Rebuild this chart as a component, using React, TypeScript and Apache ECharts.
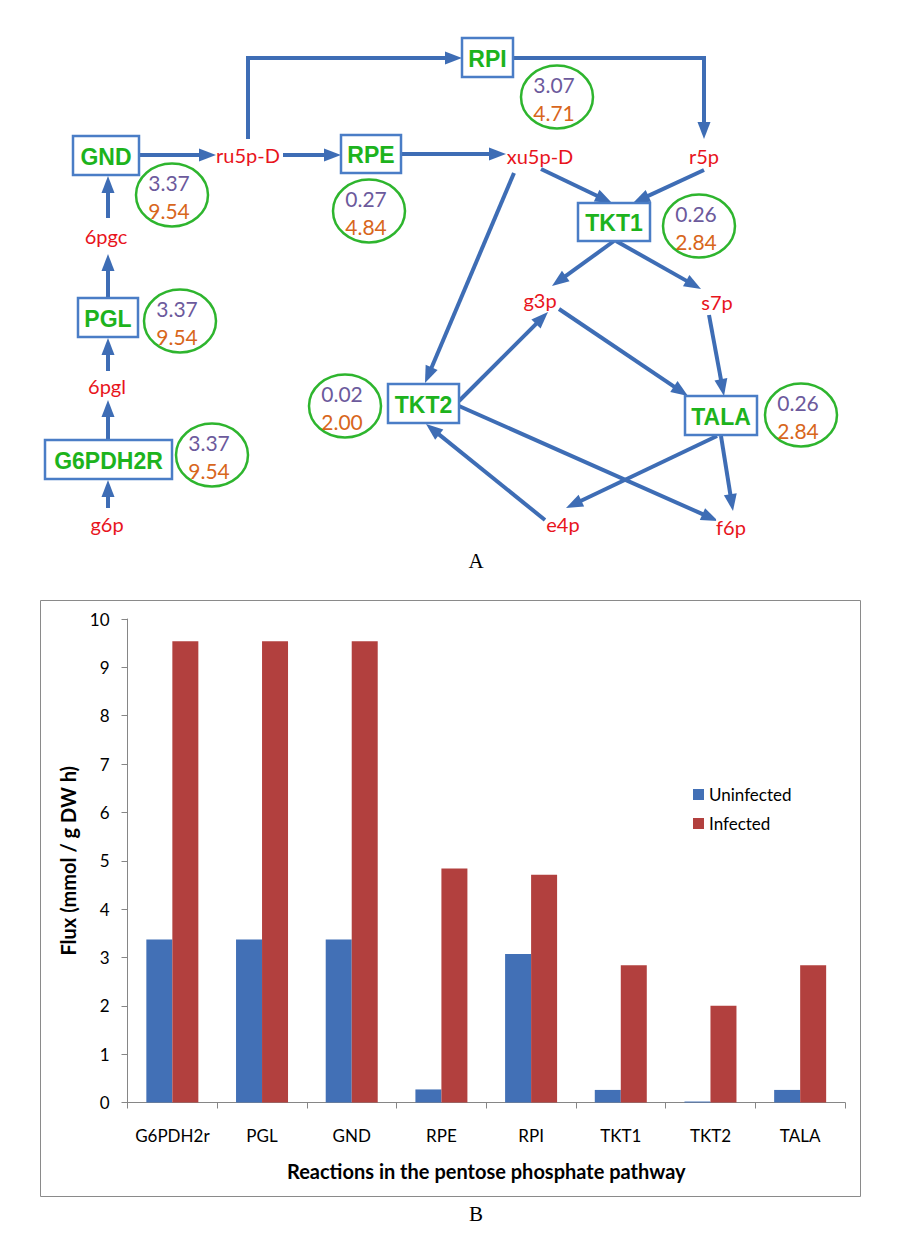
import React, { useEffect, useRef } from 'react';
import * as echarts from 'echarts';

// ---------- data ----------
const categories = ['G6PDH2r', 'PGL', 'GND', 'RPE', 'RPI', 'TKT1', 'TKT2', 'TALA'];
const diagramNames = ['G6PDH2R', 'PGL', 'GND', 'RPE', 'RPI', 'TKT1', 'TKT2', 'TALA'];
const uninfected = [3.37, 3.37, 3.37, 0.27, 3.07, 0.26, 0.02, 0.26];
const infected = [9.54, 9.54, 9.54, 4.84, 4.71, 2.84, 2.0, 2.84];
const seriesNames = ['Uninfected', 'Infected'];
const metabolites = ['g6p', '6pgl', '6pgc', 'ru5p-D', 'xu5p-D', 'r5p', 'g3p', 's7p', 'e4p', 'f6p'];
const yMin = 0;
const yMax = 10;
const yStep = 1;

// ---------- diagram layout (positions only) ----------
// [x, y, w, h, circleCx, circleCy] per reaction (same order as diagramNames)
const boxLayout: number[][] = [
  [45, 440, 127, 39, 212, 455],
  [78, 298, 60, 39, 180, 321],
  [73, 136, 66, 39, 172, 195],
  [341, 135, 60, 38, 369, 211],
  [462, 38, 51, 39, 557, 97],
  [578, 203, 72, 38, 699, 226],
  [388, 384, 71, 39, 345, 406],
  [685, 396, 72, 39, 801, 415],
];
// metabolite label centers (same order as metabolites)
const metaboliteLayout: number[][] = [
  [107, 524], [107, 386], [106, 236], [248, 155], [540, 156],
  [704, 156], [540, 300], [717, 302], [563, 524], [731, 527],
];
// arrows: list of points, last point = tip
const arrowLayout: number[][][] = [
  [[108, 508], [108, 480]],
  [[108, 440], [108, 400]],
  [[108, 371], [108, 338]],
  [[108, 298], [108, 254]],
  [[108, 218], [108, 176]],
  [[139, 155], [216, 155]],
  [[283, 155], [341, 155]],
  [[248, 139], [248, 58], [462, 58]],
  [[513, 58], [704, 58], [704, 139]],
  [[401, 154], [506, 154]],
  [[541, 169], [612, 203]],
  [[704, 170], [633, 203]],
  [[614, 241], [552, 286]],
  [[616, 241], [701, 289]],
  [[514, 173], [425, 383]],
  [[459, 401], [548, 312]],
  [[559, 309], [688, 396]],
  [[709, 315], [724, 396]],
  [[717, 436], [566, 508]],
  [[721, 436], [733, 511]],
  [[545, 520], [426, 424]],
  [[459, 406], [718, 521]],
];

const C = {
  arrow: '#3E6DB5',
  box: '#4A7DC6',
  green: '#1DB31D',
  ring: '#2EB52E',
  red: '#E8141C',
  purple: '#6C5A9C',
  orange: '#D8661C',
  blue: '#4270B6',
  barRed: '#B2403E',
  axis: '#868686',
};
const FONT = 'Lato, "Open Sans", sans-serif';

function buildGraphic() {
  const els: any[] = [];
  arrowLayout.forEach((pts) => {
    const n = pts.length;
    const [tx, ty] = pts[n - 1];
    const [px, py] = pts[n - 2];
    const dx = tx - px;
    const dy = ty - py;
    const L = Math.hypot(dx, dy);
    const ux = dx / L;
    const uy = dy / L;
    const hl = 17;
    const hw = 6.5;
    const bx = tx - ux * hl;
    const by = ty - uy * hl;
    const linePts = pts.slice(0, n - 1).concat([[bx + ux * 2, by + uy * 2]]);
    els.push({
      type: 'polyline',
      z: 1,
      shape: { points: linePts },
      style: { stroke: C.arrow, lineWidth: 4, fill: null },
    });
    els.push({
      type: 'polygon',
      z: 1,
      shape: { points: [[tx, ty], [bx - uy * hw, by + ux * hw], [bx + uy * hw, by - ux * hw]] },
      style: { fill: C.arrow },
    });
  });
  diagramNames.forEach((name, i) => {
    const [x, y, w, h, cx, cy] = boxLayout[i];
    els.push({
      type: 'rect',
      z: 2,
      shape: { x, y, width: w, height: h },
      style: { fill: '#fff', stroke: C.box, lineWidth: 2.5 },
    });
    els.push({
      type: 'text',
      z: 3,
      x: x + w / 2,
      y: y + h / 2 + 1,
      style: {
        text: name,
        fill: C.green,
        font: 'bold 23px "Liberation Sans", Arial, sans-serif',
        textAlign: 'center',
        textVerticalAlign: 'middle',
        align: 'center',
        verticalAlign: 'middle',
      },
    });
    els.push({
      type: 'ellipse',
      z: 2,
      shape: { cx, cy, rx: 36, ry: 31.5 },
      style: { fill: '#fff', stroke: C.ring, lineWidth: 2.5 },
    });
    els.push({
      type: 'text',
      z: 3,
      x: cx - 3,
      y: cy - 13,
      style: {
        text: uninfected[i].toFixed(2),
        fill: C.purple,
        font: '21px ' + FONT,
        textAlign: 'center',
        textVerticalAlign: 'middle',
        align: 'center',
        verticalAlign: 'middle',
      },
    });
    els.push({
      type: 'text',
      z: 3,
      x: cx - 3,
      y: cy + 15,
      style: {
        text: infected[i].toFixed(2),
        fill: C.orange,
        font: '21px ' + FONT,
        textAlign: 'center',
        textVerticalAlign: 'middle',
        align: 'center',
        verticalAlign: 'middle',
      },
    });
  });
  metabolites.forEach((m, i) => {
    const [x, y] = metaboliteLayout[i];
    els.push({
      type: 'text',
      z: 3,
      x,
      y,
      style: {
        text: m,
        fill: C.red,
        font: '20px ' + FONT,
        textAlign: 'center',
        textVerticalAlign: 'middle',
        align: 'center',
        verticalAlign: 'middle',
        backgroundColor: '#fff',
      },
    });
  });
  // panel labels
  ['A', 'B'].forEach((t, i) => {
    els.push({
      type: 'text',
      z: 3,
      x: 476,
      y: i === 0 ? 561 : 1214,
      style: {
        text: t,
        fill: '#000',
        font: '21px "Liberation Serif", "Times New Roman", serif',
        textAlign: 'center',
        textVerticalAlign: 'middle',
        align: 'center',
        verticalAlign: 'middle',
      },
    });
  });
  // chart frame
  els.push({
    type: 'rect',
    z: 0,
    shape: { x: 40.5, y: 600.5, width: 820, height: 596 },
    style: { fill: null, stroke: '#8a8a8a', lineWidth: 1 },
  });
  return els;
}

export default function App() {
  const ref = useRef<HTMLDivElement>(null);
  useEffect(() => {
    if (!ref.current) return;
    const chart = echarts.init(ref.current, null, { renderer: 'svg', width: 900, height: 1260 });
    chart.setOption({
      animation: false,
      backgroundColor: '#fff',
      textStyle: { fontFamily: FONT },
      legend: {
        orient: 'vertical',
        left: 688,
        top: 781,
        itemWidth: 11,
        itemHeight: 11,
        itemGap: 12,
        icon: 'rect',
        data: seriesNames,
        textStyle: { fontSize: 17, color: '#000', fontFamily: FONT },
      },
      grid: { left: 127.5, top: 619, width: 717.5, height: 483.5, containLabel: false },
      xAxis: {
        type: 'category',
        data: categories,
        axisLine: { lineStyle: { color: C.axis, width: 1 } },
        axisTick: { show: true, length: 6, lineStyle: { color: C.axis } },
        axisLabel: { interval: 0, fontSize: 17, color: '#000', margin: 24, fontFamily: FONT },
        name: 'Reactions in the pentose phosphate pathway',
        nameLocation: 'middle',
        nameGap: 58,
        nameTextStyle: { fontSize: 20, fontWeight: 'bold', color: '#000', fontFamily: FONT },
      },
      yAxis: {
        type: 'value',
        min: yMin,
        max: yMax,
        interval: yStep,
        axisLine: { show: true, lineStyle: { color: C.axis, width: 1 } },
        axisTick: { show: true, length: 6, lineStyle: { color: C.axis } },
        splitLine: { show: false },
        axisLabel: { fontSize: 17, color: '#000', margin: 18, fontFamily: FONT },
        name: 'Flux (mmol / g DW h)',
        nameLocation: 'middle',
        nameGap: 50,
        nameTextStyle: { fontSize: 20, fontWeight: 'bold', color: '#000', fontFamily: FONT },
      },
      series: [
        {
          name: seriesNames[0],
          type: 'bar',
          data: uninfected,
          barWidth: 26,
          barGap: '0%',
          itemStyle: { color: C.blue },
        },
        {
          name: seriesNames[1],
          type: 'bar',
          data: infected,
          barWidth: 26,
          barGap: '0%',
          itemStyle: { color: C.barRed },
        },
      ],
      graphic: buildGraphic(),
    });
    return () => chart.dispose();
  }, []);
  return (
    <div
      ref={ref}
      style={{ position: 'absolute', left: 0, top: 0, width: 900, height: 1260, background: '#fff' }}
    />
  );
}
